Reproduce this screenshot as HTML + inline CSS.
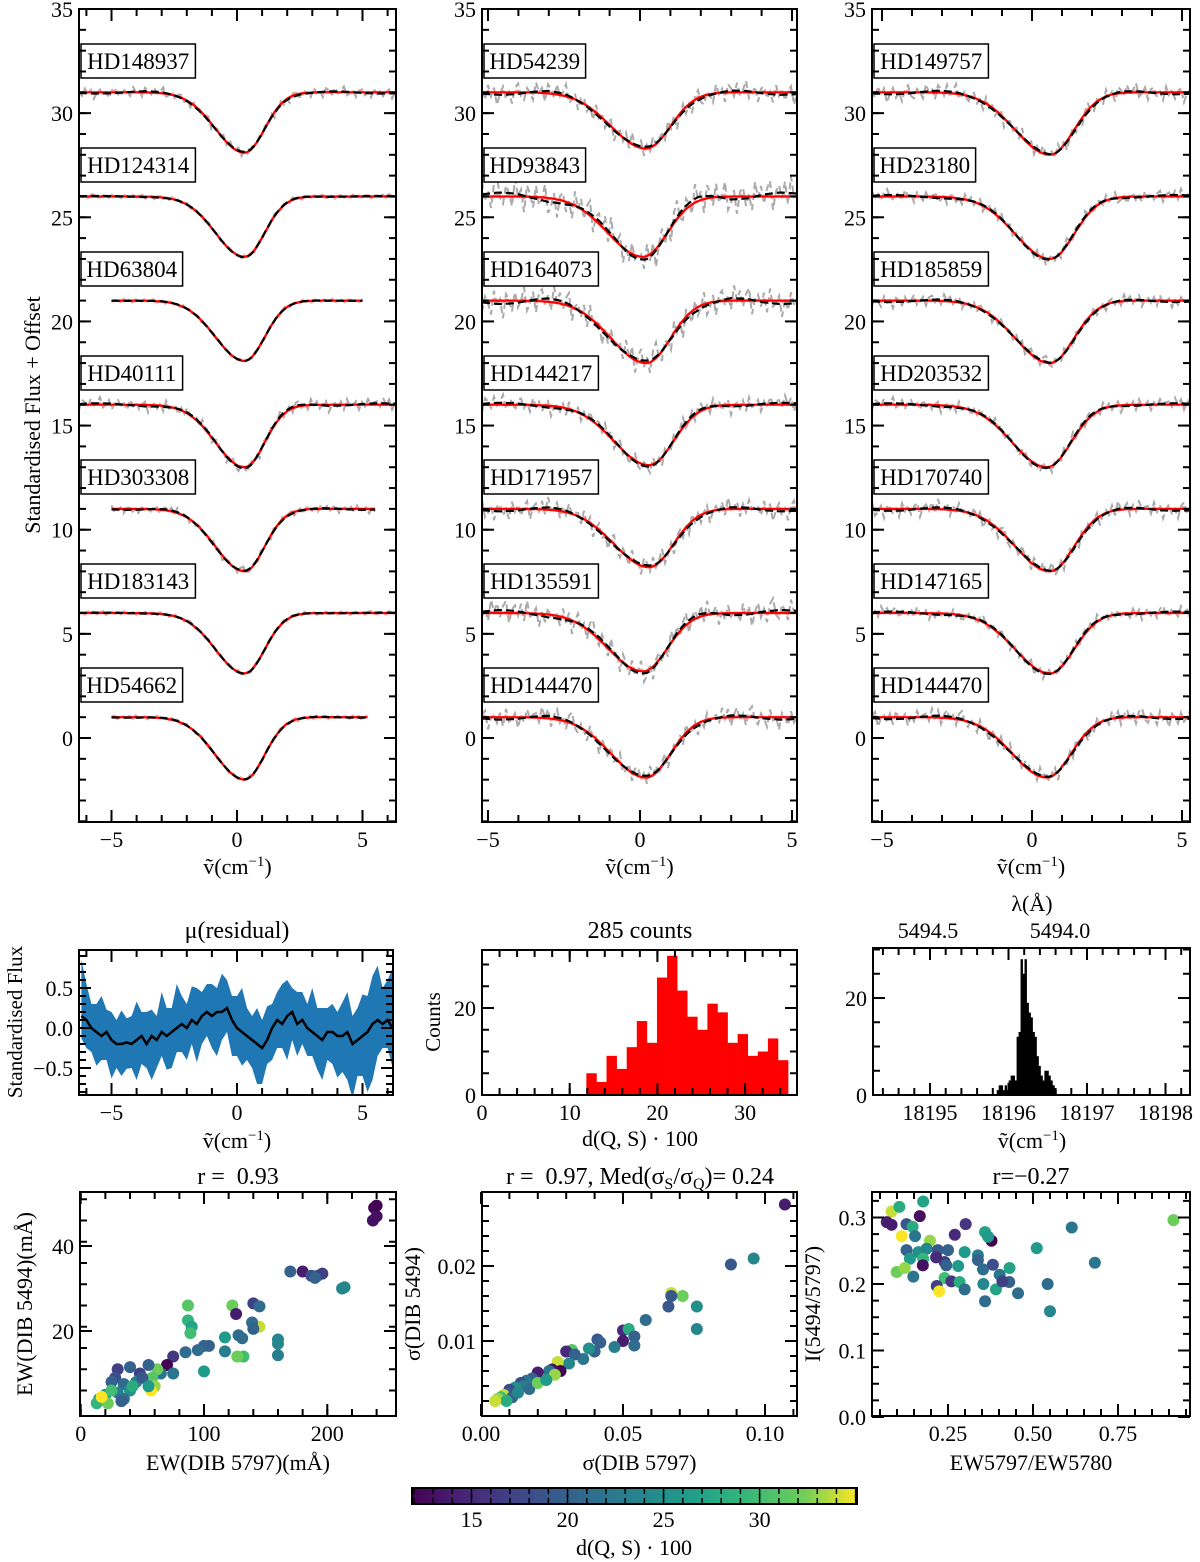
<!DOCTYPE html>
<html><head><meta charset="utf-8"><title>DIB figure</title>
<style>
html,body{margin:0;padding:0;background:#fff;}
svg{display:block;font-family:"Liberation Serif",serif;}
</style></head>
<body>
<svg id="fig" width="1200" height="1562" viewBox="0 0 1200 1562" xmlns="http://www.w3.org/2000/svg">
<defs>
<linearGradient id="viridis" x1="0" x2="1" y1="0" y2="0">
<stop offset="0" stop-color="#440154"/><stop offset="0.13" stop-color="#482878"/><stop offset="0.25" stop-color="#3e4989"/><stop offset="0.38" stop-color="#31688e"/><stop offset="0.5" stop-color="#26828e"/><stop offset="0.63" stop-color="#1f9e89"/><stop offset="0.75" stop-color="#35b779"/><stop offset="0.88" stop-color="#6ece58"/><stop offset="1" stop-color="#fde725"/>
</linearGradient>
</defs>
</svg>
<script>
// ===== DATA =====
const col1Names=["HD148937","HD124314","HD63804","HD40111","HD303308","HD183143","HD54662"];
const col2Names=["HD54239","HD93843","HD164073","HD144217","HD171957","HD135591","HD144470"];
const col3Names=["HD149757","HD23180","HD185859","HD203532","HD170740","HD147165","HD144470"];
const starBase=[31,26,21,16,11,6,1];
const col1Depth=[2.9,2.9,2.9,3.0,3.0,2.9,3.0];
const col2Depth=[2.7,2.9,3.0,2.9,2.8,2.8,2.9];
const col3Depth=[3.0,3.0,3.0,3.0,3.0,2.9,2.9];
const col1Center=[0.3,0.3,0.3,0.3,0.3,0.3,0.3];
const col2Center=[0.2,0.1,0.2,0.3,0.3,0.1,0.2];
const col3Center=[0.6,0.6,0.6,0.5,0.6,0.6,0.5];
const col1Lo=[-6.3,-6.3,-5,-6.3,-5,-6.3,-5];
const col1Hi=[6.3,6.3,5,6.3,5.5,6.3,5.2];
const col1Noise=[0.25,0.1,0.05,0.3,0.2,0.08,0.1];
const col2Noise=[0.5,0.8,0.7,0.4,0.5,0.6,0.5];
const col3Noise=[0.4,0.3,0.3,0.3,0.4,0.3,0.4];
const wiggle=[0.3,-0.5,0.8,-0.2,0.6,-0.9,0.1,0.7,-0.4,0.2,-0.8,0.5,0.9,-0.3,-0.6,0.4,0.0,-0.7,0.8,-0.1,0.3,-0.9,0.6,0.2,-0.5,0.7,-0.3,0.1,0.9,-0.6,-0.2,0.5,-0.8,0.4,0.6,-0.4,0.2,-0.7,0.8,-0.1,0.5,-0.5,0.3,0.7,-0.9,0.1,0.4,-0.3,0.6,-0.6,0.9,-0.2,0.0,0.5,-0.8,0.3,-0.4,0.7,-0.1,0.2];
const smoothWig=[0.2,0.4,0.3,-0.1,-0.4,-0.3,0.1,0.3,0.2,-0.2,-0.3,0.0,0.3,0.4,0.1,-0.3,-0.2,0.2,0.4,0.3];
// residual panel
const resMean=[0.15,0.1,0.0,-0.05,-0.1,-0.05,-0.15,-0.2,-0.2,-0.18,-0.2,-0.15,-0.1,-0.2,-0.1,-0.15,-0.05,-0.1,-0.05,0.0,0.05,0.0,0.1,0.05,0.15,0.2,0.15,0.2,0.2,0.25,0.1,0.0,-0.05,-0.1,-0.15,-0.2,-0.25,-0.15,0.0,0.1,0.05,0.15,0.2,0.05,0.1,0.0,-0.05,-0.1,-0.15,-0.05,-0.05,-0.1,-0.1,-0.05,-0.2,-0.15,-0.1,-0.05,0.05,0.1,0.05,0.1,0.0];
const resHalf=[0.7,0.45,0.3,0.35,0.5,0.28,0.35,0.3,0.42,0.3,0.35,0.48,0.3,0.4,0.33,0.3,0.5,0.35,0.3,0.55,0.35,0.3,0.42,0.45,0.3,0.35,0.4,0.3,0.48,0.35,0.3,0.4,0.55,0.35,0.3,0.45,0.35,0.42,0.3,0.35,0.5,0.45,0.3,0.4,0.35,0.3,0.55,0.35,0.4,0.3,0.35,0.3,0.42,0.5,0.35,0.4,0.52,0.45,0.6,0.68,0.45,0.5,0.75];
// histogram d(Q,S)
const histCounts=[5,3,9,6,11,17,12,27,32,24,18,15,21,19,12,14,9,10,13,8];
const histStart=11.9, histWidth=1.15;
// histogram nu
const nuCounts=[1,2,2,1,2,1,3,4,4,3,12,13,28,25,28,19,17,16,13,12,8,6,4,3,5,5,4,3,2,1];
const nuStart=18195.85, nuWidth=0.0253;
// scatter 1: EW5797, EW5494, d
const s1x=[238,240,237,240,170,180,187,192,196,190,212,214,87,123,140,145,126,87,145,139,140,90,89,128,131,117,160,160,160,100,104,95,85,117,132,127,100,75,70,75,65,62,55,58,60,57,48,40,30,28,25,35,20,30,15,13,22,40,45,35,17,25,50,42,33,55];
const s1y=[49,47,46,49.5,34,34,33,33,33.5,32.5,30,30.3,26,26,26.5,25.8,24,22.5,21,22,20.5,21,19.5,19,18.3,18.5,18,17,14.3,16.5,16.5,15.5,15,15.2,14,14,10.5,14,12,10,10,11,12,9,7,6,10,11.5,11,9,8,7.5,5,5.5,4,3,3,6,8,4,4.5,6,9,7,3.5,7];
const s1c=[12,13,13,12,20,14,18,20,17,20,24,24,31,32,17,21,14,29,34,21,20,27,30,21,21,26,24,24,23,20,20,21,21,23,30,32,26,16,12,22,22,32,20,31,33,35,17,20,17,18,20,21,25,23,24,29,32,25,23,21,35,30,19,28,20,26];
// scatter 2: sigma5797, sigma5494, d
const s2x=[0.107,0.088,0.096,0.067,0.071,0.067,0.066,0.076,0.076,0.058,0.050,0.052,0.054,0.054,0.050,0.047,0.041,0.042,0.040,0.038,0.036,0.032,0.030,0.033,0.031,0.027,0.028,0.025,0.024,0.026,0.020,0.018,0.016,0.014,0.015,0.012,0.010,0.010,0.008,0.007,0.006,0.011,0.013,0.017,0.020,0.023,0.009,0.005];
const s2y=[0.0282,0.0202,0.0210,0.0164,0.0160,0.0160,0.0146,0.0146,0.0116,0.0128,0.0114,0.0116,0.0106,0.0094,0.0100,0.0092,0.0102,0.0098,0.0086,0.0090,0.0076,0.0088,0.0086,0.0082,0.0070,0.0072,0.0060,0.0062,0.0060,0.0055,0.0058,0.0050,0.0047,0.0044,0.0040,0.0038,0.0035,0.0030,0.0028,0.0025,0.0023,0.0025,0.0031,0.0036,0.0044,0.0048,0.0020,0.0020];
const s2c=[14,19,24,34,32,19,19,25,24,21,15,28,20,21,14,23,19,20,20,25,22,31,15,20,24,34,12,13,22,33,14,20,22,18,23,25,18,19,34,30,33,20,24,21,32,26,28,34];
// scatter 3: ratio, I, d
const s3x=[0.084,0.107,0.177,0.167,0.07,0.084,0.128,0.146,0.153,0.114,0.197,0.302,0.270,0.378,0.359,0.368,0.614,0.913,0.511,0.682,0.128,0.163,0.187,0.22,0.25,0.299,0.338,0.338,0.177,0.138,0.24,0.245,0.28,0.353,0.382,0.431,0.402,0.099,0.123,0.148,0.176,0.24,0.26,0.284,0.217,0.224,0.299,0.354,0.391,0.43,0.456,0.543,0.359,0.55,0.41,0.215];
const s3y=[0.309,0.316,0.324,0.302,0.293,0.289,0.290,0.286,0.272,0.272,0.265,0.290,0.274,0.265,0.278,0.271,0.285,0.296,0.254,0.232,0.251,0.248,0.253,0.251,0.251,0.248,0.243,0.236,0.238,0.238,0.233,0.228,0.227,0.222,0.229,0.224,0.214,0.218,0.224,0.211,0.228,0.209,0.204,0.203,0.197,0.189,0.192,0.200,0.192,0.203,0.186,0.200,0.174,0.159,0.204,0.240];
const s3c=[34,28,27,13,14,14,19,28,22,35,33,16,15,12,27,26,22,32,26,22,20,25,24,19,20,26,23,20,29,26,17,20,26,21,18,27,22,32,33,22,13,30,16,28,17,35,21,24,27,20,21,21,21,24,17,15];
// colorbar ticks
const cbTicks=[15,20,25,30];

// ===== HELPERS =====
const NS='http://www.w3.org/2000/svg';
const svg=document.getElementById('fig');
function mk(tag,attrs,parent){const e=document.createElementNS(NS,tag);for(const k in attrs)e.setAttribute(k,attrs[k]);(parent||svg).appendChild(e);return e;}
function lin(d0,d1,p0,p1){return v=>p0+(v-d0)*(p1-p0)/(d1-d0);}
const VIR=[[68,1,84],[72,40,120],[62,73,137],[49,104,142],[38,130,142],[31,158,137],[53,183,121],[110,206,88],[253,231,37]];
function viridis(t){t=Math.max(0,Math.min(1,t));const p=t*(VIR.length-1);const i=Math.min(VIR.length-2,Math.floor(p));const f=p-i;const a=VIR[i],b=VIR[i+1];return 'rgb('+a.map((v,k)=>Math.round(v+(b[k]-v)*f)).join(',')+')';}
function cmap(d){return viridis((d-11.9)/(35.07-11.9));}

function txt(str,x,y,size,anchor,parent,name,rot){
  const t=mk('text',{x:x,y:y,'font-size':size,'text-anchor':anchor||'middle',fill:'#000'},parent);
  if(rot)t.setAttribute('transform','rotate(-90 '+x+' '+y+')');
  t.textContent=str;
  
  
  return t;
}
function nuLabel(cx,y,parent,name){
  const t=mk('text',{x:cx,y:y,'font-size':22,'text-anchor':'middle'},parent);
  
  
  t.appendChild(document.createTextNode('\u1E7D(cm'));
  const s=mk('tspan',{dy:-8,'font-size':15},t);s.textContent='\u22121';
  const s2=mk('tspan',{dy:8},t);s2.textContent=')';
  return t;
}
function frame(g,L,T,R,B,xs,ys,xMaj,xMin,yMaj,yMin,xFmt,yFmt){
  const grp=mk('g',{},g);
  
  
  const ML=12,mL=7,tol=2;
  function tk(x1,y1,x2,y2){mk('line',{x1:x1,y1:y1,x2:x2,y2:y2,stroke:'#000','stroke-width':2},grp);}
  xMaj.forEach(v=>{const x=xs(v);if(x<L-tol||x>R+tol)return;tk(x,B,x,B-ML);tk(x,T,x,T+ML);
    if(xFmt){txt(xFmt(v),x,B+25,22,'middle',grp,'x-tick-label');}});
  xMin.forEach(v=>{const x=xs(v);if(x<L-0.5||x>R+0.5)return;tk(x,B,x,B-mL);tk(x,T,x,T+mL);});
  yMaj.forEach(v=>{const y=ys(v);if(y<T-tol||y>B+tol)return;tk(L,y,L+ML,y);tk(R,y,R-ML,y);
    if(yFmt){txt(yFmt(v),L-6,y+8,22,'end',grp,'y-tick-label');}});
  yMin.forEach(v=>{const y=ys(v);if(y<T-0.5||y>B+0.5)return;tk(L,y,L+mL,y);tk(R,y,R-mL,y);});
  const r=mk('rect',{x:L,y:T,width:R-L,height:B-T,fill:'none',stroke:'#000','stroke-width':2},grp);
  
  
}
function range(a,b,s){const o=[];for(let v=a;v<=b+1e-9;v+=s)o.push(Math.round(v*1000)/1000);return o;}
function fmt0(v){return (v<0?'\u2212':'')+Math.abs(v);}
function fmt1(v){return (v<0?'\u2212':'')+Math.abs(v).toFixed(1);}
function fmt2(v){return (v<0?'\u2212':'')+Math.abs(v).toFixed(2);}

// ===== SPECTRA PANELS =====
function profile(x,base,depth,c){const s=x<c?1.15:0.8;return base-depth*Math.exp(-0.5*((x-c)/s)**2);}
function wigAt(arr,x,xlo,xhi){const p=(x-xlo)/(xhi-xlo)*(arr.length-1);const i=Math.max(0,Math.min(arr.length-2,Math.floor(p)));const f=p-i;return arr[i]+(arr[i+1]-arr[i])*f;}
function spectraPanel(idx,L,R,x0px,pxPerUnit,names,depths,centers,noise,lo,hi){
  const T=9,B=822;
  const xs=v=>x0px+v*pxPerUnit;
  const ys=lin(0,35,738,9);
  const g=mk('g',{});
  
  
  const clip=mk('clipPath',{id:'clip'+idx},g);
  mk('rect',{x:L,y:T,width:R-L,height:B-T},clip);
  const xmn=(L-x0px)/pxPerUnit,xmx=(R-x0px)/pxPerUnit;
  names.forEach((nm,k)=>{
    const base=starBase[k],dep=depths[k],c=centers[k],nz=noise[k];
    const a=lo?lo[k]:xmn,b=hi?hi[k]:xmx;
    let gray='',red='',blk='',pink='';
    const N=Math.round((b-a)*pxPerUnit/3);
    for(let i=0;i<=N;i++){
      const x=a+(b-a)*i/N;
      const m=profile(x,base,dep,c);
      const wh=wiggle[(i+k*7)%wiggle.length];
      const ws=wigAt(smoothWig,x,a,b)*(k%2?1:-1);
      gray+=(i?'L':'M')+xs(x).toFixed(1)+','+ys(m+nz*0.6*ws+nz*1.1*wh).toFixed(1);
      pink+=(i?'L':'M')+xs(x).toFixed(1)+','+ys(m+0.1*wh).toFixed(1);
      red+=(i?'L':'M')+xs(x).toFixed(1)+','+ys(m).toFixed(1);
      blk+=(i?'L':'M')+xs(x).toFixed(1)+','+ys(m+nz*0.6*ws).toFixed(1);
    }
    const sg=mk('g',{'clip-path':'url(#clip'+idx+')'},g);
    
    
    const p1=mk('path',{d:gray,fill:'none',stroke:'#aaaaaa','stroke-width':2,'stroke-dasharray':'7,4'},sg);
    
    
    const p4=mk('path',{d:pink,fill:'none',stroke:'#f5a0a0','stroke-width':2},sg);
    
    
    const p2=mk('path',{d:red,fill:'none',stroke:'#ff0000','stroke-width':2.2},sg);
    
    
    const p3=mk('path',{d:blk,fill:'none',stroke:'#000','stroke-width':2.2,'stroke-dasharray':'8,4'},sg);
    
    
    const by=44+104*k;
    const w=nm.length*12.8+12;
    const lb=mk('rect',{x:L+2,y:by,width:w,height:34,fill:'#fff',stroke:'#000','stroke-width':1.5},g);
    
    
    txt(nm,L+2+w/2,by+25,23,'middle',g,'star-label');
  });
  frame(g,L,T,R,B,xs,ys,[-5,0,5],range(-6,6,1),range(0,35,5),range(-4,35,1),fmt0,fmt0);
  nuLabel((L+R)/2,874,g,'x-axis-title');
}
spectraPanel(1,79,396,237,25.1,col1Names,col1Depth,col1Center,col1Noise,col1Lo,col1Hi);
spectraPanel(2,482,797,640,30.4,col2Names,col2Depth,col2Center,col2Noise,null,null);
spectraPanel(3,872,1190,1032,30,col3Names,col3Depth,col3Center,col3Noise,null,null);
txt('Standardised Flux + Offset',40,415,22,'middle',svg,'y-axis-title',true);

// ===== RESIDUAL PANEL =====
(function(){
  const L=79,R=393,T=950,B=1095;
  const xs=v=>237+v*25.1, ys=lin(0,0.5,1028,988);
  const g=mk('g',{});
  const clip=mk('clipPath',{id:'clipR'},g);mk('rect',{x:L,y:T,width:R-L,height:B-T},clip);
  const n=resMean.length;const xv=i=>-6.2+12.4*i/(n-1);
  let up='',dn='',mn='';
  for(let i=0;i<n;i++){up+=(i?'L':'M')+xs(xv(i)).toFixed(1)+','+ys(resMean[i]+resHalf[i]).toFixed(1);mn+=(i?'L':'M')+xs(xv(i)).toFixed(1)+','+ys(resMean[i]).toFixed(1);}
  for(let i=n-1;i>=0;i--){dn+='L'+xs(xv(i)).toFixed(1)+','+ys(resMean[i]-resHalf[(i+5)%n]).toFixed(1);}
  const band=mk('path',{d:up+dn+'Z',fill:'#1f77b4','clip-path':'url(#clipR)'},g);
  
  const ml=mk('path',{d:mn,fill:'none',stroke:'#000','stroke-width':2.5,'clip-path':'url(#clipR)'},g);
  
  frame(g,L,T,R,B,xs,ys,[-5,0,5],range(-6,6,1),[-0.5,0,0.5],range(-0.8,0.9,0.1),fmt0,fmt1);
  txt('\u03BC(residual)',237,938,24,'middle',g,'panel-title');
  nuLabel(237,1148,g,'x-axis-title');
  txt('Standardised Flux',22,1022,21,'middle',g,'y-axis-title',true);
})();

// ===== HISTOGRAM d(Q,S) =====
(function(){
  const L=482,R=797,T=950,B=1095;
  const xs=lin(0,10,482,569.7), ys=lin(0,20,1095,1008);
  const g=mk('g',{});
  histCounts.forEach((c,i)=>{
    const x0=xs(histStart+i*histWidth),x1=xs(histStart+(i+1)*histWidth);
    const r=mk('rect',{x:x0,y:ys(c),width:x1-x0+0.3,height:B-ys(c),fill:'#ff0000'},g);
    
  });
  frame(g,L,T,R,B,xs,ys,[0,10,20,30],range(0,36,2),[0,20],range(0,33,5),fmt0,fmt0);
  txt('285 counts',640,938,24,'middle',g,'panel-title');
  txt('d(Q, S) \u00B7 100',640,1146,22,'middle',g,'x-axis-title');
  txt('Counts',440,1022,21,'middle',g,'y-axis-title',true);
})();

// ===== HISTOGRAM nu =====
(function(){
  const L=873,R=1190,T=948,B=1095;
  const xs=lin(18195,18196,930,1008.5), ys=lin(0,20,1095,998);
  const g=mk('g',{});
  nuCounts.forEach((c,i)=>{
    const x0=xs(nuStart+i*nuWidth),x1=xs(nuStart+(i+1)*nuWidth);
    const r=mk('rect',{x:x0,y:ys(c),width:x1-x0+0.4,height:B-ys(c),fill:'#000'},g);
    
  });
  frame(g,L,T,R,B,xs,ys,[18195,18196,18197,18198],range(18194.4,18198.2,0.2),[0,20],range(0,30,5),v=>String(v),fmt0);
  txt('5494.5',928,938,22,'middle',g,'top-tick-label');
  txt('5494.0',1060,938,22,'middle',g,'top-tick-label');
  txt('\u03BB(\u00C5)',1032,911,22,'middle',g,'top-axis-title');
  nuLabel(1032,1148,g,'x-axis-title');
})();

// ===== SCATTERS =====
function scatter(name,L,T,R,B,xs,ys,X,Y,C,xMaj,xMin,yMaj,yMin,xf,yf,title,xl,yl,yoff){
  const g=mk('g',{});
  X.forEach((v,i)=>{
    const c=mk('circle',{cx:xs(v),cy:ys(Y[i]),r:6,fill:cmap(C[i])},g);
    
  });
  frame(g,L,T,R,B,xs,ys,xMaj,xMin,yMaj,yMin,xf,yf);
  if(title)txt(title,(L+R)/2,1184,24,'middle',g,'panel-title');
  txt(xl,(L+R)/2,1470,22,'middle',g,'x-axis-title');
  txt(yl,L-yoff,(T+B)/2,22,'middle',g,'y-axis-title',true);
  return g;
}
scatter('ew-scatter',80,1192,396,1416,lin(0,100,80.7,204),lin(0,20,1416,1331),s1x,s1y,s1c,[0,100,200],range(0,250,20),[20,40],range(6,52,5),fmt0,fmt0,'r =\u00A0 0.93','EW(DIB 5797)(m\u00C5)','EW(DIB 5494)(m\u00C5)',48);
const g2=scatter('sigma-scatter',482,1192,797,1416,lin(0,0.05,481,623),lin(0,0.01,1416,1341),s2x,s2y,s2c,[0,0.05,0.10],range(0,0.11,0.01),[0.01,0.02],range(0.002,0.03,0.002),fmt2,fmt2,null,'\u03C3(DIB 5797)','\u03C3(DIB 5494)',62);
(function(){
  const t=mk('text',{x:640,y:1184,'font-size':24,'text-anchor':'middle'},g2);
  
  
  t.appendChild(document.createTextNode('r =\u00A0 0.97, Med(\u03C3'));
  const a=mk('tspan',{dy:5,'font-size':16},t);a.textContent='S';
  const b=mk('tspan',{dy:-5},t);b.textContent='/\u03C3';
  const c=mk('tspan',{dy:5,'font-size':16},t);c.textContent='Q';
  const d=mk('tspan',{dy:-5},t);d.textContent=')= 0.24';
})();
scatter('ratio-scatter',872,1192,1190,1416,lin(0,0.25,863,948),lin(0,0.1,1417,1350.5),s3x,s3y,s3c,[0.25,0.5,0.75],range(0.05,0.95,0.05),[0,0.1,0.2,0.3],range(0,0.33,0.025),fmt2,fmt1,'r=\u22120.27','EW5797/EW5780','I(5494/5797)',52);

// ===== COLORBAR =====
(function(){
  const L=412,R=857,T=1488,B=1504;
  const xs=lin(11.9,35.07,L,R);
  const g=mk('g',{});
  const r=mk('rect',{x:L,y:T,width:R-L,height:B-T,fill:'url(#viridis)',stroke:'#000','stroke-width':2},g);
  
  for(let v=12;v<=35;v++){const x=xs(v);const ln=mk('line',{x1:x,y1:T,x2:x,y2:T+(v%5===0?10:6),stroke:'#000','stroke-width':1.5},g);
    const ln2=mk('line',{x1:x,y1:B,x2:x,y2:B-(v%5===0?10:6),stroke:'#000','stroke-width':1.5},g);}
  cbTicks.forEach(v=>txt(String(v),xs(v),1527,22,'middle',g,'colorbar-tick-label'));
  txt('d(Q, S) \u00B7 100',634,1555,22,'middle',g,'colorbar-title');
})();
</script>
</body></html>
